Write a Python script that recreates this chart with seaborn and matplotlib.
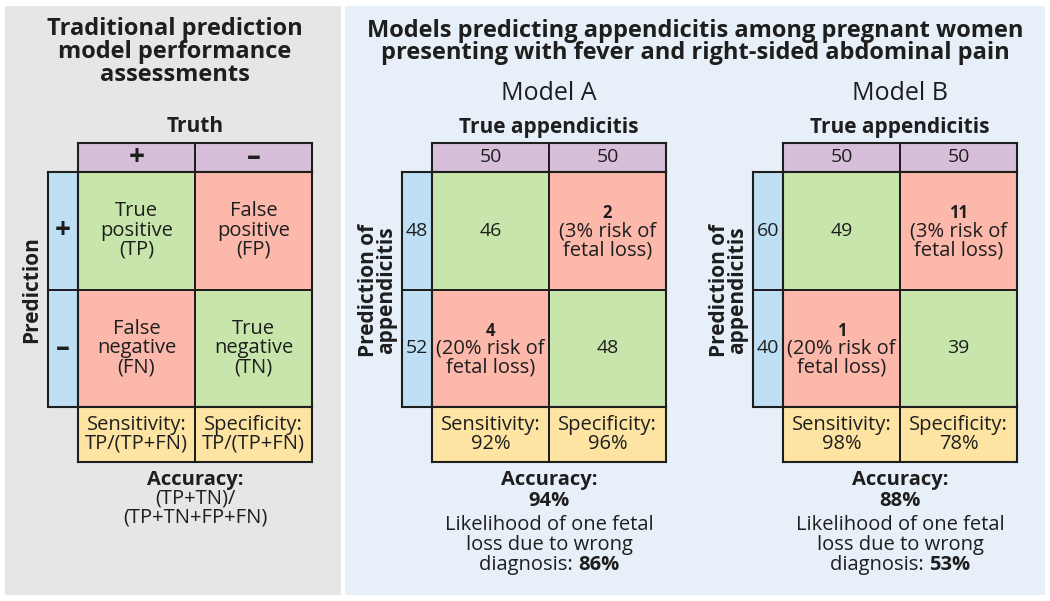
import numpy as np
import seaborn as sns
import matplotlib.pyplot as plt
from matplotlib.colors import ListedColormap
from matplotlib.patches import Rectangle

# data
MODEL_NAMES = ['Model A', 'Model B']
TRUTH_TOTALS = [[50, 50], [50, 50]]
PRED_TOTALS = [[48, 52], [60, 40]]
TP = [46, 49]
FP = [2, 11]
FN = [4, 1]
TN = [48, 39]
SENSITIVITY = [92, 98]
SPECIFICITY = [96, 78]
ACCURACY = [94, 88]
FETAL_LOSS_LIKELIHOOD = [86, 53]
FP_RISK = 3
FN_RISK = 20

LEFT_CELLS = [['True\npositive\n(TP)', 'False\npositive\n(FP)'],
              ['False\nnegative\n(FN)', 'True\nnegative\n(TN)']]
LEFT_FOOT = ['Sensitivity:\nTP/(TP+FN)', 'Specificity:\nTP/(TP+FN)']

# style
W, H = 1050, 601
INK = '#1e1e1e'
PALETTE = ['#c8e6ac', '#fbb8ab', '#d7bfda', '#bfe0f4', '#fde4a2']  # green, red, purple, blue, yellow
CMAP = ListedColormap(PALETTE)
LS = 0.95  # line spacing for body text

sns.set_style('white')
plt.rcParams['font.family'] = ['Open Sans', 'DejaVu Sans']
plt.rcParams['text.color'] = INK

fig = plt.figure(figsize=(W / 100, H / 100), dpi=100)


def rect(x, y, w, h):
    return [x / W, 1 - (y + h) / H, w / W, h / H]


def ftext(x, y, s, **kw):
    kw.setdefault('ha', 'center')
    kw.setdefault('va', 'center')
    return fig.text(x / W, 1 - y / H, s, **kw)


def block(x, y, w, h, codes):
    ax = fig.add_axes(rect(x, y, w, h))
    sns.heatmap(np.array(codes), cmap=CMAP, vmin=-0.5, vmax=len(PALETTE) - 0.5,
                cbar=False, linewidths=1.4, linecolor=INK,
                xticklabels=False, yticklabels=False, ax=ax)
    for s in ax.spines.values():
        s.set_visible(True)
        s.set_linewidth(1.5)
        s.set_color(INK)
    return ax


def mixed_line(x, y, normal, bold, size):
    t1 = ftext(x, y, normal, ha='left', fontsize=size)
    t2 = ftext(x, y, bold, ha='left', fontsize=size, fontweight='bold')
    fig.canvas.draw()
    r = fig.canvas.get_renderer()
    w1 = t1.get_window_extent(r).width
    w2 = t2.get_window_extent(r).width
    x0 = x - (w1 + w2) / 2
    t1.set_x(x0 / W)
    t2.set_x((x0 + w1) / W)


# panels
fig.add_artist(Rectangle((5 / W, 6 / H), 336 / W, 589 / H, transform=fig.transFigure,
                         facecolor='#e6e6e6', edgecolor='none', zorder=0))
fig.add_artist(Rectangle((345 / W, 6 / H), 700 / W, 589 / H, transform=fig.transFigure,
                         facecolor='#e7f0f8', edgecolor='none', zorder=0))

# ---- left panel: generic confusion matrix
ftext(175, 52, 'Traditional prediction\nmodel performance\nassessments',
      fontsize=17, fontweight='bold', linespacing=0.93)
ftext(195, 127, 'Truth', fontsize=15, fontweight='bold')
ftext(32, 290, 'Prediction', fontsize=15, fontweight='bold', rotation=90)

ax = block(78, 143, 234, 29, [[2, 2]])
for j, s in enumerate(['+', '\u2013']):
    ax.text(j + 0.5, 0.5, s, ha='center', va='center', fontsize=20, fontweight='bold')
ax = block(48, 172, 30, 235, [[3], [3]])
for i, s in enumerate(['+', '\u2013']):
    ax.text(0.5, i + 0.5, s, ha='center', va='center', fontsize=20, fontweight='bold')
ax = block(78, 172, 234, 235, [[0, 1], [1, 0]])
for i in range(2):
    for j in range(2):
        ax.text(j + 0.5, i + 0.5, LEFT_CELLS[i][j], ha='center', va='center',
                fontsize=14.5, linespacing=LS)
ax = block(78, 407, 234, 55, [[4, 4]])
for j in range(2):
    ax.text(j + 0.5, 0.5, LEFT_FOOT[j], ha='center', va='center', fontsize=14.5, linespacing=0.9)

ftext(195, 480, 'Accuracy:', fontsize=14.5, fontweight='bold')
ftext(195, 508, '(TP+TN)/\n(TP+TN+FP+FN)', fontsize=14.5, linespacing=LS)

# ---- right panel: two models
ftext(695, 42, 'Models predicting appendicitis among pregnant women\npresenting with fever and right-sided abdominal pain',
      fontsize=17, fontweight='bold', linespacing=0.9)

for m, name in enumerate(MODEL_NAMES):
    x0 = [432, 783][m]
    cx = x0 + 117
    ftext(cx, 93, name, fontsize=18)
    ftext(cx, 127, 'True appendicitis', fontsize=15, fontweight='bold')
    ftext(x0 - 54, 290, 'Prediction of\nappendicitis', fontsize=15, fontweight='bold',
          rotation=90, linespacing=0.82)

    ax = block(x0, 143, 234, 29, [[2, 2]])
    for j in range(2):
        ax.text(j + 0.5, 0.5, str(TRUTH_TOTALS[m][j]), ha='center', va='center', fontsize=14)
    ax = block(x0 - 30, 172, 30, 235, [[3], [3]])
    for i in range(2):
        ax.text(0.5, i + 0.5, str(PRED_TOTALS[m][i]), ha='center', va='center', fontsize=14)

    ax = block(x0, 172, 234, 235, [[0, 1], [1, 0]])
    ax.text(0.5, 0.5, str(TP[m]), ha='center', va='center', fontsize=14)
    ax.text(1.5, 1.5, str(TN[m]), ha='center', va='center', fontsize=14)
    for (i, j, n, risk) in [(0, 1, FP[m], FP_RISK), (1, 0, FN[m], FN_RISK)]:
        ax.text(j + 0.5, i + 0.35, str(n), ha='center', va='center', fontsize=12, fontweight='bold')
        ax.text(j + 0.5, i + 0.585, '(%d%% risk of\nfetal loss)' % risk, ha='center', va='center',
                fontsize=14.5, linespacing=LS)

    ax = block(x0, 407, 234, 55, [[4, 4]])
    ax.text(0.5, 0.5, 'Sensitivity:\n%d%%' % SENSITIVITY[m], ha='center', va='center',
            fontsize=14.5, linespacing=0.9)
    ax.text(1.5, 0.5, 'Specificity:\n%d%%' % SPECIFICITY[m], ha='center', va='center',
            fontsize=14.5, linespacing=0.9)

    ftext(cx, 480, 'Accuracy:', fontsize=14.5, fontweight='bold')
    ftext(cx, 501, '%d%%' % ACCURACY[m], fontsize=14.5, fontweight='bold')
    ftext(cx, 535, 'Likelihood of one fetal\nloss due to wrong', fontsize=14.5, linespacing=LS)
    mixed_line(cx, 565, 'diagnosis: ', '%d%%' % FETAL_LOSS_LIKELIHOOD[m], 14.5)

fig.savefig('out.png', dpi=100)
